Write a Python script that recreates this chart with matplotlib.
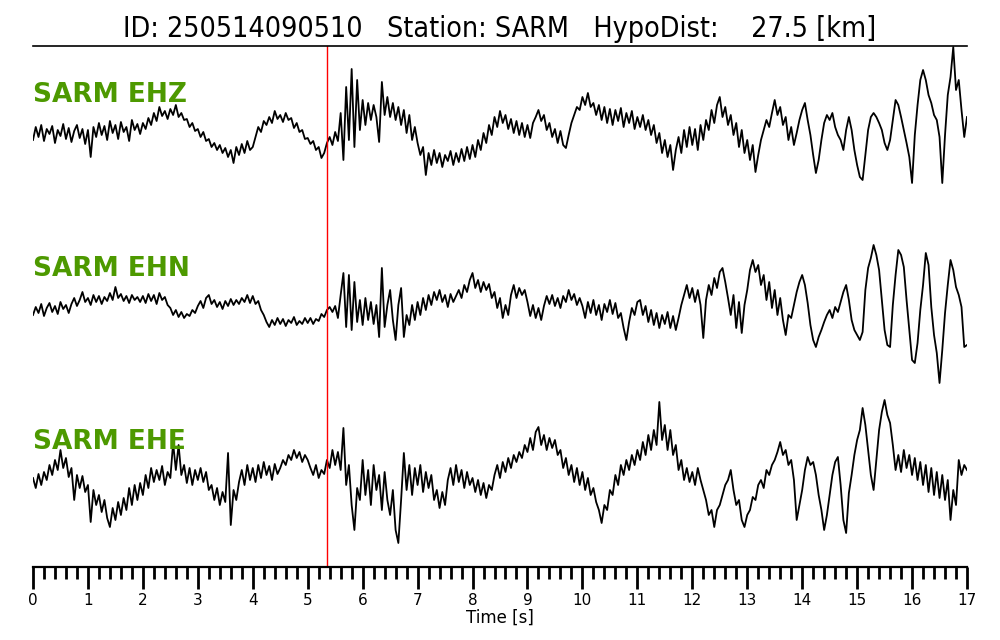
import numpy as np
import matplotlib
matplotlib.use("Agg")
import matplotlib.pyplot as plt
from matplotlib.ticker import MultipleLocator

# header info
event_id = "250514090510"
station = "SARM"
hypo_dist = 27.5
channels = ["EHZ", "EHN", "EHE"]
pick_time = 5.35  # red marker [s]
dt = 0.05

# amplitudes (arbitrary units, up = positive)
ehz = [
    -5, 8, -2, 10, -6, 6, 1, 9, -8, 5, -1, 11, -4, 7, -7, 4, 10, -3, 6, -9,
    5, -22, 8, -2, 12, 0, 9, -5, 14, 2, 10, -4, 13, 3, 8, -6, 15, 5, 11, 1,
    12, 6, 17, 10, 22, 14, 28, 19, 24, 16, 26, 20, 30, 18, 22, 15, 16, 8, 12, 4,
    6, -2, 3, -6, -4, -12, -8, -15, -10, -18, -13, -22, -15, -28, -12, -20, -9, -18, -6, -15,
    -12, -2, 8, 3, 14, 10, 18, 12, 24, 16, 20, 13, 22, 15, 17, 7, 12, 3, 5, -4,
    -3, -9, -6, -15, -12, -23, -18, -8, -2, -10, 3, -6, 22, -25, 48, -5, 66, -12, 55, 5,
    35, 10, 32, 15, 30, 18, -7, 53, 20, 38, 18, 32, 15, 28, 10, 25, 2, 20, -5, 8,
    -8, -20, -12, -40, -18, -30, -15, -28, -18, -32, -20, -26, -16, -30, -18, -27, -14, -26, -12, -24,
    -10, -22, -5, -15, 2, -8, 10, 0, 18, 8, 24, 12, 20, 6, 16, 2, 14, 0, 12, -2,
    10, -3, 12, 18, 25, 14, 20, 5, 12, -2, 6, -8, 4, -10, -13, 0, 12, 20, 28, 25,
    38, 30, 42, 28, 32, 20, 30, 15, 28, 12, 26, 10, 25, 14, 27, 8, 22, 12, 24, 6,
    18, 8, 20, 5, 15, 0, 10, -8, 2, -18, -5, -22, -10, -35, -15, -2, -18, 5, -12, 8,
    -10, 6, -15, 10, -5, 15, 5, 25, 12, 30, 38, 18, 28, 10, 20, 0, 12, -12, 5, -18,
    -5, -25, -10, -37, -20, -5, 5, 15, 8, 22, 35, 20, 28, 10, 18, -5, 8, -10, 2, 15,
    25, 32, 15, 0, -20, -38, -25, -5, 12, 20, 15, 22, 8, 0, -5, -15, 5, 18, 5, -15,
    -30, -42, -45, -20, 5, 18, 22, 18, 12, 5, -8, -15, -5, 15, 35, 30, 18, 5, -8, -22,
    -48, 0, 30, 55, 65, 55, 40, 32, 20, 15, -2, -48, 0, 40, 58, 88, 45, 55, 25, -2, 18]

ehn = [
    -5, 3, -3, 6, -6, 2, 7, -2, 4, -4, 8, 1, 5, -3, 6, 12, 4, 10, 18, 8,
    12, 5, 15, 8, 14, 6, 13, 9, 17, 10, 23, 12, 16, 9, 14, 7, 15, 10, 13, 8,
    14, 7, 16, 9, 15, 6, 17, 10, 13, 5, 2, -5, 0, -7, -2, -8, -4, -6, 0, -3,
    4, 9, 2, 12, 15, 6, 10, 3, 8, 1, 9, 4, 11, 5, 10, 6, 12, 8, 15, 7,
    14, 6, 9, 0, -5, -12, -17, -10, -15, -8, -14, -9, -16, -10, -13, -7, -15, -11, -14, -8,
    -13, -8, -14, -9, -11, -4, -7, 0, 3, -2, 4, -8, 15, 37, -17, 35, -20, 28, -12, 10,
    -15, 12, -10, 8, -14, 5, -27, 42, -17, 5, 20, -10, -30, 5, 22, -27, -5, -15, 5, -10,
    8, -5, 12, 0, 15, 5, 18, 10, 20, 8, 15, 3, 16, 8, 14, 20, 12, 25, 18, 30,
    37, 22, 30, 18, 28, 20, 26, 12, 18, 2, 12, -8, 5, -5, 15, 25, 12, 22, 15, 20,
    8, -6, 5, -8, 2, -10, 4, 14, 6, 15, 4, 12, 2, 14, 8, 20, 10, 16, 5, 12,
    4, -8, 8, -3, 10, -5, 5, -10, 6, -2, 10, -4, 7, -8, -3, -18, -30, -12, 2, -5,
    8, 10, -5, 4, -12, 0, -15, -3, -18, -5, -14, -2, -18, -6, -20, -8, 5, 15, 25, 12,
    22, 8, 20, 5, -28, 10, 25, 15, 32, 22, 38, 42, 28, 12, -5, 15, -18, 8, -23, 5,
    20, 40, 50, 38, 45, 25, 35, 10, 28, 2, 20, -5, 12, -10, -25, -5, -8, 5, 18, 28,
    35, 25, 7, -15, -30, -37, -27, -20, -12, -5, 0, -8, 3, -2, 8, 18, 25, 10, -10, -20,
    -25, -30, -22, 20, 42, 52, 65, 55, 40, 10, -20, -35, -37, 5, 35, 60, 55, 43, 10, -20,
    -50, -53, -33, 0, 25, 57, 45, 3, -25, -43, -73, -40, -3, 25, 50, 40, 23, 15, 3, -37, -35]

ehe = [
    2, -8, 6, -5, 8, 0, 15, 5, 20, 10, 30, 12, 22, 3, 12, -20, 5, -8, 4, -12,
    -5, -42, -10, -25, -15, -32, -20, -38, -47, -28, -40, -22, -35, -18, -30, -8, -25, -5, -20, -3,
    -15, 5, -8, 12, -2, 10, 0, 14, -5, 8, 2, 37, 10, 35, 5, 15, -3, 12, -5, 10,
    0, 12, -2, 8, -10, -5, -20, -8, -25, -12, -22, 27, -45, -10, -20, -2, 10, -5, 15, 0,
    12, -2, 15, 2, 18, 5, 14, 0, 16, 6, 12, 20, 15, 25, 20, 30, 22, 28, 18, 25,
    20, 12, 5, 15, 2, 10, 6, 20, 12, 30, 15, 28, 10, 52, -5, 15, -25, -50, -8, -20,
    20, -15, 10, -25, 15, -10, 5, -30, 8, -20, -35, -10, -50, -63, -20, 27, -10, 15, -15, 12,
    -5, 15, -12, 8, -8, 5, -20, -10, -28, -12, -25, 0, 12, -5, 15, -2, 10, -8, 8, -5,
    2, -12, 0, -15, -3, -18, -5, -10, 5, 15, 2, 18, 8, 22, 12, 25, 18, 28, 22, 35,
    28, 42, 30, 48, 53, 35, 45, 30, 42, 32, 40, 25, 30, 12, 22, 5, 15, -2, 12, -5,
    8, -10, 2, -15, -8, -22, -30, -43, -25, -30, -10, -15, 5, -5, 15, 5, 20, 10, 25, 15,
    30, 20, 38, 25, 45, 30, 50, 35, 78, 40, 55, 30, 50, 25, 35, 10, 20, 0, 12, -2,
    8, -5, 12, 0, -10, -20, -35, -30, -47, -30, -25, -15, -5, 0, 10, -10, -25, -20, -40, -47,
    -35, -30, -17, -20, -5, 0, -8, 10, 5, 15, 20, 28, 38, 25, 30, 15, 20, 0, -40, -25,
    -10, 10, 23, 15, 18, 5, -15, -30, -50, -35, -15, 5, 18, 23, -5, -40, -53, -13, 5, 25,
    40, 50, 72, 55, 30, 5, -10, 20, 50, 68, 80, 65, 57, 35, 10, 25, 8, 30, 12, 25,
    5, 22, 0, 18, -5, 15, -12, 12, -15, 8, -18, 5, -20, 0, -40, -10, -25, 20, 5, 15, 10]

traces = [ehz, ehn, ehe]
offsets = [135, 310, 480]      # trace baselines (axis units, top = small)
label_y = [102, 276, 449]
green = (0.3, 0.6, 0.0)

fig = plt.figure(figsize=(10, 6.4), dpi=100)
ax = fig.add_axes([0.033, 1 - 567 / 640, 0.934, 521 / 640])

for tr, off, ch, ly in zip(traces, offsets, channels, label_y):
    tr = np.array(tr, dtype=float)
    t = np.arange(len(tr)) * dt
    ax.plot(t, off - tr, color="black", lw=1.3)
    ax.text(0, ly, station + " " + ch, color=green, fontsize=19,
            fontweight="bold", ha="left", va="baseline")

ax.axvline(pick_time, color="red", lw=1.0)

ax.set_xlim(0, 17)
ax.set_ylim(567, 46)
ax.spines["left"].set_visible(False)
ax.spines["right"].set_visible(False)
ax.spines["top"].set_linewidth(1.2)
ax.spines["bottom"].set_linewidth(1.6)
ax.set_yticks([])
ax.xaxis.set_major_locator(MultipleLocator(1))
ax.xaxis.set_minor_locator(MultipleLocator(0.2))
ax.tick_params(axis="x", which="major", length=16, width=2, labelsize=11, pad=3)
ax.tick_params(axis="x", which="minor", length=8.5, width=2)
ax.set_xlabel("Time [s]", fontsize=12, labelpad=0)

title = "ID: %s   Station: %s   HypoDist:    %.1f [km]" % (event_id, station, hypo_dist)
fig.text(0.5, 1 - 37 / 640, title, ha="center", va="baseline", fontsize=20.5,
         fontstretch="condensed")

fig.savefig("out.png", dpi=100)
